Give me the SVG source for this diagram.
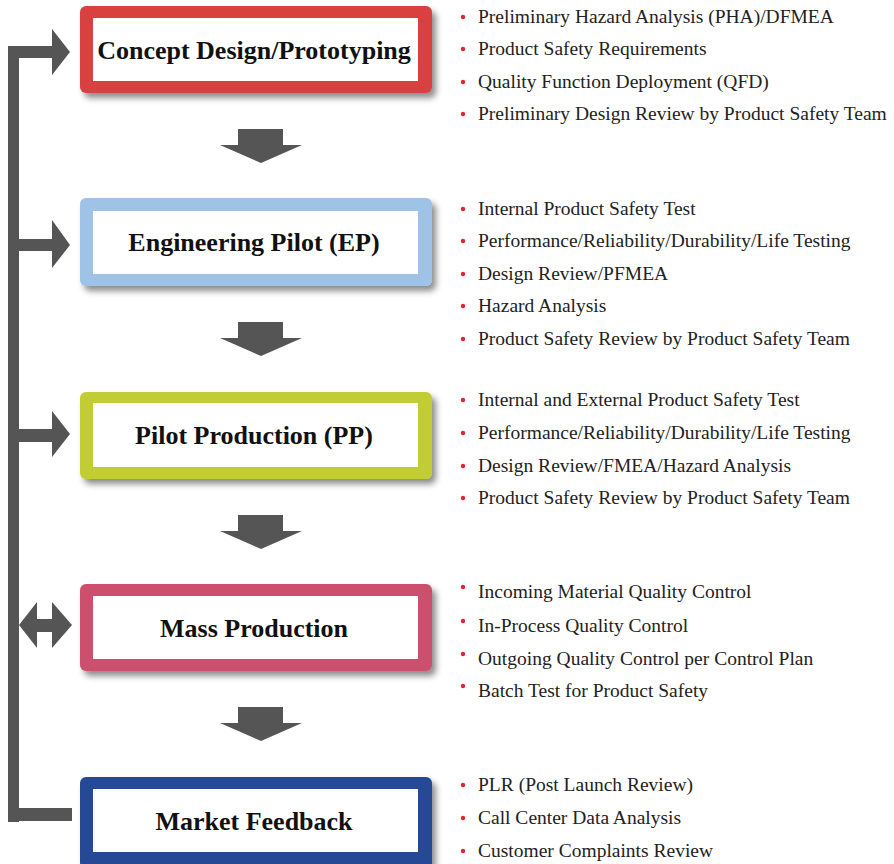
<svg xmlns="http://www.w3.org/2000/svg" width="894" height="864" viewBox="0 0 894 864">
  <defs>
    <filter id="shadow" x="-10%" y="-20%" width="125%" height="150%">
      <feDropShadow dx="4" dy="5" stdDeviation="3" flood-color="#000" flood-opacity="0.45"/>
    </filter>
    <polygon id="down" points="238,0 283,0 283,16 302,16 261,34 220,16 238,16"/>
  </defs>
  <style>
    .title { font-family: "Liberation Serif", "Times New Roman", serif; font-weight: bold; font-size: 26px; fill: #111; text-anchor: middle; }
    .item { font-family: "Liberation Serif", "Times New Roman", serif; font-size: 19.5px; fill: #222; }
    .dot { fill: #e0252b; }
    .inner { fill: #fff; }
    .conn { fill: #555; }
  </style>
  <rect width="894" height="864" fill="#fff"/>

  <!-- feedback loop and flow arrows -->
  <g id="connectors" class="conn">
    <rect x="8" y="46" width="11" height="776"/>
    <rect x="8" y="46" width="46" height="12"/>
    <polygon points="52,29 70,52 52,75"/>
    <rect x="8" y="239" width="46" height="12"/>
    <polygon points="52,220 70,245 52,268"/>
    <rect x="8" y="429" width="46" height="13"/>
    <polygon points="52,411 70,434 52,457"/>
    <rect x="35" y="619" width="19" height="13"/>
    <polygon points="37,602 19,625 37,648"/>
    <polygon points="52,602 72,625 52,648"/>
    <rect x="8" y="808" width="64" height="13"/>
    <use href="#down" y="129"/>
    <use href="#down" y="322"/>
    <use href="#down" y="515"/>
    <use href="#down" y="707"/>
  </g>

  <g id="concept">
    <rect x="80" y="6" width="352" height="87" rx="6" fill="#d94040" filter="url(#shadow)"/>
    <rect class="inner" x="93" y="18" width="325" height="63"/>
    <text class="title" x="254" y="59">Concept Design/Prototyping</text>
  </g>
  <g id="concept-items" class="item">
    <circle class="dot" cx="463" cy="17" r="2.2"/><text x="478" y="23">Preliminary Hazard Analysis (PHA)/DFMEA</text>
    <circle class="dot" cx="463" cy="49" r="2.2"/><text x="478" y="55">Product Safety Requirements</text>
    <circle class="dot" cx="463" cy="82" r="2.2"/><text x="478" y="88">Quality Function Deployment (QFD)</text>
    <circle class="dot" cx="463" cy="114" r="2.2"/><text x="478" y="120">Preliminary Design Review by Product Safety Team</text>
  </g>

  <g id="engineering-pilot">
    <rect x="80" y="198" width="352" height="88" rx="6" fill="#9ec3e6" filter="url(#shadow)"/>
    <rect class="inner" x="93" y="211" width="325" height="63"/>
    <text class="title" x="254" y="251">Engineering Pilot (EP)</text>
  </g>
  <g id="engineering-pilot-items" class="item">
    <circle class="dot" cx="463" cy="209" r="2.2"/><text x="478" y="215">Internal Product Safety Test</text>
    <circle class="dot" cx="463" cy="241" r="2.2"/><text x="478" y="247">Performance/Reliability/Durability/Life Testing</text>
    <circle class="dot" cx="463" cy="274" r="2.2"/><text x="478" y="280">Design Review/PFMEA</text>
    <circle class="dot" cx="463" cy="306" r="2.2"/><text x="478" y="312">Hazard Analysis</text>
    <circle class="dot" cx="463" cy="339" r="2.2"/><text x="478" y="345">Product Safety Review by Product Safety Team</text>
  </g>

  <g id="pilot-production">
    <rect x="80" y="392" width="352" height="87" rx="6" fill="#c2cd35" filter="url(#shadow)"/>
    <rect class="inner" x="93" y="403" width="325" height="64"/>
    <text class="title" x="254" y="444">Pilot Production (PP)</text>
  </g>
  <g id="pilot-production-items" class="item">
    <circle class="dot" cx="463" cy="400" r="2.2"/><text x="478" y="406">Internal and External Product Safety Test</text>
    <circle class="dot" cx="463" cy="433" r="2.2"/><text x="478" y="439">Performance/Reliability/Durability/Life Testing</text>
    <circle class="dot" cx="463" cy="466" r="2.2"/><text x="478" y="472">Design Review/FMEA/Hazard Analysis</text>
    <circle class="dot" cx="463" cy="498" r="2.2"/><text x="478" y="504">Product Safety Review by Product Safety Team</text>
  </g>

  <g id="mass-production">
    <rect x="80" y="584" width="352" height="87" rx="6" fill="#cc506e" filter="url(#shadow)"/>
    <rect class="inner" x="93" y="596" width="325" height="63"/>
    <text class="title" x="254" y="637">Mass Production</text>
  </g>
  <g id="mass-production-items" class="item">
    <circle class="dot" cx="463" cy="587" r="2.2"/><text x="478" y="598">Incoming Material Quality Control</text>
    <circle class="dot" cx="463" cy="621" r="2.2"/><text x="478" y="632">In-Process Quality Control</text>
    <circle class="dot" cx="463" cy="654" r="2.2"/><text x="478" y="665">Outgoing Quality Control per Control Plan</text>
    <circle class="dot" cx="463" cy="686" r="2.2"/><text x="478" y="697">Batch Test for Product Safety</text>
  </g>

  <g id="market-feedback">
    <rect x="80" y="777" width="352" height="92" rx="6" fill="#264a95" filter="url(#shadow)"/>
    <rect class="inner" x="93" y="789" width="325" height="63"/>
    <text class="title" x="254" y="830">Market Feedback</text>
  </g>
  <g id="market-feedback-items" class="item">
    <circle class="dot" cx="463" cy="785" r="2.2"/><text x="478" y="791">PLR (Post Launch Review)</text>
    <circle class="dot" cx="463" cy="818" r="2.2"/><text x="478" y="824">Call Center Data Analysis</text>
    <circle class="dot" cx="463" cy="851" r="2.2"/><text x="478" y="857">Customer Complaints Review</text>
  </g>
</svg>
